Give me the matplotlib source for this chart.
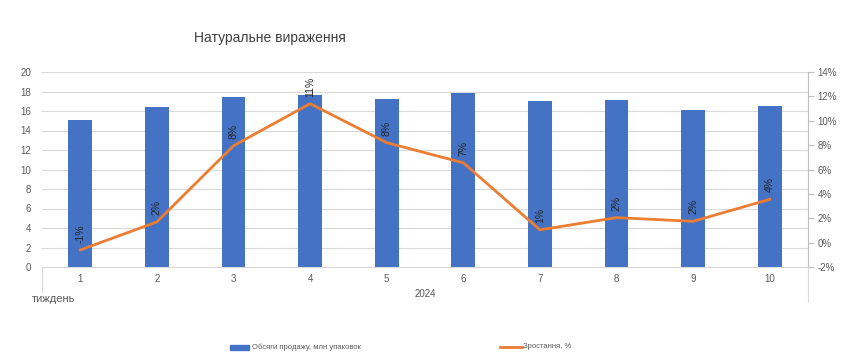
import matplotlib
matplotlib.use("Agg")
import matplotlib.pyplot as plt
from matplotlib.lines import Line2D
from matplotlib.patches import Rectangle
import numpy as np

plt.rcParams['font.family'] = ['Liberation Sans', 'DejaVu Sans']

weeks = ['1', '2', '3', '4', '5', '6', '7', '8', '9', '10']
volumes = [15.1, 16.4, 17.4, 17.6, 17.2, 17.8, 17.0, 17.1, 16.1, 16.5]
growth = [-0.6, 1.7, 7.95, 11.4, 8.2, 6.55, 1.05, 2.05, 1.75, 3.55]
growth_labels = ['-1%', '2%', '8%', '11%', '8%', '7%', '1%', '2%', '2%', '4%']
title = 'Натуральне вираження'
year_label = '2024'
axis_label = 'тиждень'
bar_name = 'Обсяги продажу, млн упаковок'
line_name = 'Зростання, %'

W, H = 850, 359
fig = plt.figure(figsize=(W / 100, H / 100), dpi=100)
ax = fig.add_axes([42 / W, 1 - 267 / H, (808 - 42) / W, (267 - 72) / H])

x = np.arange(len(weeks))
bar_color = '#4472C4'
line_color = '#ED7D31'
text_color = '#595959'
grid_color = '#D9D9D9'

ax.bar(x, volumes, width=0.31, color=bar_color, zorder=2)
ax.set_xlim(-0.5, len(weeks) - 0.5)
ax.set_ylim(0, 20)
ax.set_yticks(np.arange(0, 21, 2))
ax.yaxis.grid(True, color=grid_color, linewidth=0.8, zorder=0)
ax.set_axisbelow(True)
for s in ['top', 'right', 'left']:
    ax.spines[s].set_visible(False)
ax.spines['bottom'].set_color(grid_color)
ax.tick_params(axis='y', length=0, labelsize=7, labelcolor=text_color, pad=8)
ax.set_xticks(x)
ax.set_xticklabels(weeks)
ax.tick_params(axis='x', length=0, labelsize=7, labelcolor=text_color, pad=5)

ax2 = ax.twinx()
ax2.plot(x, growth, color=line_color, linewidth=2, zorder=3)
ax2.set_ylim(-2, 14)
ax2.set_yticks(np.arange(-2, 15, 2))
ax2.set_yticklabels([f'{v}%' for v in range(-2, 15, 2)])
for s in ['top', 'left', 'bottom']:
    ax2.spines[s].set_visible(False)
ax2.spines['right'].set_color('#BFBFBF')
ax2.tick_params(axis='y', length=4, color='#BFBFBF', labelsize=7, labelcolor=text_color, pad=3)

for xi, g, lab in zip(x, growth, growth_labels):
    ax2.annotate(lab, (xi, g), xytext=(0, 5), textcoords='offset points',
                 rotation=90, ha='center', va='bottom', fontsize=7.5, color='#262626')

# category box lines below axes
fig.add_artist(Line2D([42 / W, 42 / W], [1 - 267 / H, 1 - 292 / H], color=grid_color, linewidth=0.8))
fig.add_artist(Line2D([808 / W, 808 / W], [1 - 267 / H, 1 - 301 / H], color=grid_color, linewidth=0.8))

fig.text(270 / W, 1 - 38 / H, title, ha='center', va='center', fontsize=10, color='#404040')
fig.text(425 / W, 1 - 294 / H, year_label, ha='center', va='center', fontsize=7, color=text_color)
fig.text(32 / W, 1 - 299 / H, axis_label, ha='left', va='center', fontsize=8, color=text_color)

# legend
ly = 1 - 347 / H
fig.add_artist(Rectangle((230 / W, ly - 2.5 / H), 19 / W, 5 / H, color=bar_color, transform=fig.transFigure))
fig.text(252 / W, ly, bar_name, ha='left', va='center', fontsize=5.5, color=text_color)
fig.add_artist(Line2D([500 / W, 522 / W], [ly, ly], color=line_color, linewidth=2))
fig.text(523 / W, ly, line_name, ha='left', va='center', fontsize=5.5, color=text_color)

fig.savefig('out.png', dpi=100)
